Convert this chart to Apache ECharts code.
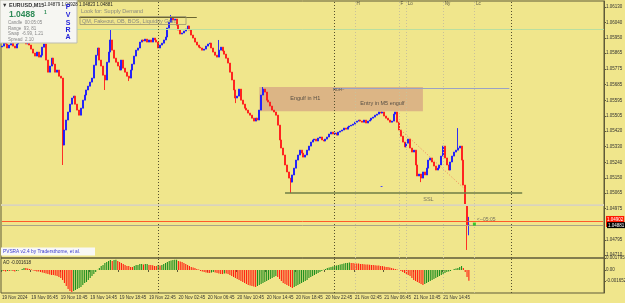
<!DOCTYPE html>
<html><head><meta charset="utf-8">
<script src="https://cdn.jsdelivr.net/npm/echarts@6/dist/echarts.min.js"></script>
<style>html,body{margin:0;padding:0;background:#f0e68c}#c{width:625px;height:303px}</style>
</head><body><div id="c"></div>
<script>
// ---------- data ----------
const slotCount = 328;               // visible 15-min slots (incl. empty future space)
const firstOpen = 1.05900;
const closes = [
1.05905,1.05934,1.05917,1.05894,1.05911, 1.05928,1.05905,1.05894,1.05917,1.05940,
1.05951,1.05968,1.05940,1.05917,1.05928, 1.05911,1.05888,1.05865,1.05848,1.05871,
1.05842,1.05853,1.05899,1.05917,1.05825, 1.05756,1.05791,1.05836,1.05802,1.05756,
1.05768,1.05733,1.05722,1.05339,1.05425, 1.05482,1.05528,1.05573,1.05608,1.05619,
1.05573,1.05539,1.05510,1.05550,1.05596, 1.05625,1.05654,1.05676,1.05699,1.05722,
1.05796,1.05853,1.05894,1.05825,1.05791, 1.05739,1.05711,1.05813,1.05871,1.05940,
1.05882,1.05836,1.05813,1.05791,1.05768, 1.05825,1.05779,1.05756,1.05733,1.05722,
1.05768,1.05802,1.05848,1.05882,1.05894, 1.05928,1.05940,1.05934,1.05945,1.05928,
1.05940,1.05928,1.05951,1.05940,1.05928, 1.05894,1.05911,1.05922,1.05940,1.05957,
1.06008,1.06042,1.06065,1.06054,1.06060, 1.06025,1.05997,1.05974,1.05980,1.05991,
1.06002,1.06020,1.05997,1.05968,1.05951, 1.05928,1.05911,1.05899,1.05894,1.05882,
1.05888,1.05905,1.05917,1.05922,1.05894, 1.05871,1.05853,1.05842,1.05882,1.05899,
1.05877,1.05859,1.05836,1.05808,1.05756, 1.05711,1.05654,1.05608,1.05619,1.05659,
1.05596,1.05573,1.05550,1.05539,1.05522, 1.05510,1.05493,1.05476,1.05493,1.05482,
1.05539,1.05625,1.05659,1.05642,1.05596, 1.05585,1.05562,1.05539,1.05528,1.05510,
1.05453,1.05368,1.05322,1.05282,1.05225, 1.05185,1.05150,1.05127,1.05168,1.05207,
1.05253,1.05282,1.05310,1.05293,1.05270, 1.05282,1.05310,1.05333,1.05356,1.05368,
1.05373,1.05362,1.05379,1.05385,1.05368, 1.05362,1.05373,1.05385,1.05402,1.05413,
1.05402,1.05408,1.05396,1.05413,1.05419, 1.05425,1.05436,1.05430,1.05442,1.05448,
1.05453,1.05459,1.05470,1.05476,1.05482, 1.05476,1.05470,1.05482,1.05465,1.05476,
1.05482,1.05493,1.05499,1.05510,1.05516, 1.05528,1.05522,1.05528,1.05505,1.05493,
1.05482,1.05470,1.05476,1.05516,1.05528, 1.05470,1.05425,1.05390,1.05356,1.05328,
1.05350,1.05373,1.05322,1.05299,1.05310, 1.05225,1.05162,1.05173,1.05150,1.05185,
1.05168,1.05207,1.05253,1.05265,1.05242, 1.05219,1.05196,1.05207,1.05225,1.05276,
1.05333,1.05265,1.05225,1.05196,1.05242, 1.05276,1.05299,1.05310,1.05322,1.05333,
1.05253,1.05110,1.04996,1.04879,1.04881
];
const wickHighs = [[59,1.05997],[92,1.06083],[118,1.05940],[142,1.05671],[248,1.05436],[254,1.04928]];
const wickLows  = [[33,1.05225],[56,1.05654],[69,1.05705],[127,1.05579],[157,1.05065],[228,1.05127],[253,1.04739],[254,1.04823]];

// Awesome Oscillator, units of 1e-4
const aoValues = [
-1.5,-1.5,-2.2,-1.5,-1.5,-0.8,-1.5,-2.2,-1.5,-0.8,0.1,
1.5,3.0,3.0,2.2,1.5,0.8,
-0.8,-1.5,-2.2,-2.2,-3.0,
-3.8,-4.5,-5.2,-6.0,-6.8,-7.5,-7.5,-8.2,-9.0,
-10.5,-12.0,-15.0,-19.5,-24.0,-28.5,-31.5,-33.0,
-31.5,-30.0,-28.5,-27.0,-25.5,-22.5,-19.5,-18.0,-15.0,-12.0,-9.0,-6.0,-3.0,0.2,
3.0,6.0,7.5,10.5,12.0,13.5,15.0,13.5,15.0,15.2,
13.5,12.0,10.5,9.0,7.5,6.0,5.9,4.5,4.4,
6.0,7.5,7.6,9.0,9.1,8.2,9.0,9.1,7.5,7.4,7.3,
6.0,5.9,7.5,6.8,7.5,9.0,
10.5,12.0,13.5,14.2,15.0,15.3,15.5,
13.5,12.8,12.0,10.5,9.0,7.5,6.0,4.5,3.8,3.0,1.5,0.8,
-1.5,-2.2,-3.0,-3.8,-4.5,-4.6,-3.8,-3.0,-3.8,-4.5,-5.2,-6.0,-6.1,-5.2,-5.3,-6.0,-7.5,-9.0,
-10.5,-12.0,-13.5,-15.0,-16.5,-18.0,-19.5,-21.0,-22.5,-23.2,-24.0,-24.8,-25.5,
-24.0,-22.5,-21.0,-19.5,-18.0,-16.5,-15.0,-13.5,-12.0,-10.5,-9.0,
-10.5,-13.5,-16.5,-19.5,-21.0,-22.5,-24.0,-25.5,-27.0,
-25.5,-24.0,-22.5,-21.0,-19.5,-18.0,-16.5,-15.0,-12.0,-10.5,-9.0,-7.5,-6.0,-4.5,-3.0,
-1.5,0.2,1.5,3.0,3.8,4.5,5.2,6.0,6.8,7.5,8.2,9.0,9.8,10.5,10.6,11.2,
10.5,10.4,9.8,9.7,9.6,9.0,8.9,8.8,8.2,8.1,8.0,7.5,7.4,7.3,6.8,6.7,6.0,
5.9,5.2,4.5,4.4,3.8,3.0,2.2,1.5,0.8,0.1,
-1.5,-3.0,-4.5,-6.0,-7.5,-9.0,-12.0,-15.0,-16.5,-18.0,-19.5,-21.0,-22.5,
-21.0,-19.5,-18.0,-16.5,-15.0,-13.5,-12.0,-10.5,-9.0,-7.5,-6.0,-4.5,-3.0,-2.2,-1.5,0.1,
1.5,2.2,3.0,4.5,6.0,
3.0,-3.0,-10.5,-16.18
];

const priceTicks = ['1.06130','1.06040','1.05950','1.05865','1.05775','1.05685','1.05595','1.05505',
  '1.05420','1.05330','1.05240','1.05150','1.05065','1.04975','1.04795','1.04710'];
const aoTicks = ['0.001795','0.00','-0.001652'];
const timeTicks = ['19 Nov 2024','19 Nov 06:45','19 Nov 10:45','19 Nov 14:45','19 Nov 18:45','19 Nov 22:45',
  '20 Nov 02:45','20 Nov 06:45','20 Nov 10:45','20 Nov 14:45','20 Nov 18:45','20 Nov 22:45',
  '21 Nov 02:45','21 Nov 06:45','21 Nov 10:45','21 Nov 14:45'];

// bar indices of separators / sessions
const daySeparators = [85, 181, 277];
const sessions = [['H',192],['F',216],['Lo',220],['Ny',240],['Lc',257]];
const bidPrice = 1.04881, askPrice = 1.04902;

// ---------- build ----------
const months = ['Jan','Feb','Mar','Apr','May','Jun','Jul','Aug','Sep','Oct','Nov','Dec'];
const pad = n => (n < 10 ? '0' : '') + n;
const t0 = Date.UTC(2024, 10, 19, 2, 45);
const categories = Array.from({length: slotCount}, (_, i) => {
  const d = new Date(t0 + i * 900000);
  return d.getUTCDate() + ' ' + months[d.getUTCMonth()] + ' ' + pad(d.getUTCHours()) + ':' + pad(d.getUTCMinutes());
});
const hiMap = Object.fromEntries(wickHighs), loMap = Object.fromEntries(wickLows);
const ohlc = closes.map((c, i) => {
  const o = i ? closes[i - 1] : firstOpen;
  let lo = Math.min(o, c), hi = Math.max(o, c);
  if (hiMap[i] !== undefined) hi = Math.max(hi, hiMap[i]);
  if (loMap[i] !== undefined) lo = Math.min(lo, loMap[i]);
  return [o, c, lo, hi];
});
const GREEN = '#1e8f1e', RED = '#ff2010';
const aoData = aoValues.map((v, i) => ({
  value: v * 1e-4,
  itemStyle: {color: (i === 0 || v > aoValues[i - 1]) ? GREEN : RED}
}));

const FONT = 'Liberation Sans';
const lastSlot = slotCount - 1;
const PMIN = 1.04693, PMAX = 1.06163;
const lvl = (y, color, w) => ({yAxis: y, lineStyle: {color, width: w || 1, type: 'solid'}});
const vDark = i => ({xAxis: i, lineStyle: {color: '#55502e', width: 1, type: [1, 2]}});
const vLight = i => ({xAxis: i, lineStyle: {color: '#c9c19a', width: 1, type: [1, 2]}});

const noteData = [
  {value: [165, 1.05608], label: {formatter: 'Engulf in H1', position: 'inside', fontSize: 5.5, color: '#333'}},
  {value: [207, 1.05579], label: {formatter: 'Entry in M5 engulf', position: 'inside', fontSize: 5.5, color: '#333'}},
  {value: [232, 1.05030], label: {formatter: 'SSL', position: 'inside', fontSize: 5.5, color: '#555'}},
  {value: [180, 1.05654], label: {formatter: 'RDH~', position: 'right', distance: 0, fontSize: 4, color: '#333'}},
  {value: [258, 1.04910], label: {formatter: '<--05:05', position: 'right', distance: 0, fontSize: 5, color: '#555'}}
].concat(sessions.map(s => ({value: [s[1], 1.06145], label: {formatter: s[0], position: 'right', distance: 1, fontSize: 4.5, color: '#333'}})));

const priceLabel = v => {
  if (Math.abs(v - askPrice) < 1e-9) return '{ask|' + v.toFixed(5) + '}';
  return v.toFixed(5);
};

const chart = echarts.init(document.getElementById('c'), null, {renderer: 'canvas'});
chart.setOption({
  animation: false,
  backgroundColor: '#f0e68c',
  textStyle: {fontFamily: FONT},
  grid: [
    {left: 1, right: 21, top: 1, height: 257, show: true, borderColor: '#5f5a38', borderWidth: 1,
     backgroundColor: 'transparent', containLabel: false, outerBoundsMode: 'none'},
    {left: 1, right: 21, top: 258, height: 35, show: true, borderColor: '#5f5a38', borderWidth: 1,
     backgroundColor: 'transparent', containLabel: false, outerBoundsMode: 'none'}
  ],
  xAxis: [
    {type: 'category', gridIndex: 0, data: categories, boundaryGap: true,
     axisLine: {show: false}, axisTick: {show: false}, axisLabel: {show: false}, splitLine: {show: false}},
    {type: 'category', gridIndex: 1, data: categories, boundaryGap: true,
     axisLine: {show: false},
     axisTick: {show: true, length: 2, lineStyle: {color: '#5f5a38'}, interval: i => i % 16 === 0 && i / 16 < timeTicks.length},
     axisLabel: {show: true, fontSize: 4.5, color: '#333', margin: 2, align: 'left', fontFamily: FONT,
       interval: i => i % 16 === 0 && i / 16 < timeTicks.length,
       formatter: (v, i) => timeTicks[i / 16] || ''},
     splitLine: {show: false}}
  ],
  yAxis: [
    {type: 'value', gridIndex: 0, position: 'right', min: PMIN, max: PMAX, scale: true,
     axisLine: {show: true, lineStyle: {color: '#5f5a38'}},
     axisTick: {show: true, length: 2, inside: false, lineStyle: {color: '#5f5a38'}, customValues: priceTicks.map(Number)},
     axisLabel: {show: true, fontSize: 4.5, color: '#333', margin: 2, fontFamily: FONT, hideOverlap: false,
       customValues: priceTicks.map(Number).concat([askPrice]), formatter: priceLabel,
       rich: {
         ask: {backgroundColor: '#ff1a00', color: '#fff', fontSize: 4.5, padding: [1, 1, 5, 1], fontFamily: FONT}
       }},
     splitLine: {show: false}},
    {type: 'value', gridIndex: 1, position: 'right', min: -0.00345, max: 0.0018,
     axisLine: {show: true, lineStyle: {color: '#5f5a38'}},
     axisTick: {show: true, length: 2, lineStyle: {color: '#5f5a38'}, customValues: aoTicks.map(Number)},
     axisLabel: {show: true, fontSize: 4.5, color: '#333', margin: 2, fontFamily: FONT,
       customValues: aoTicks.map(Number), formatter: v => v === 0 ? '0.00' : v.toFixed(6)},
     splitLine: {show: false}},
    {type: 'value', gridIndex: 0, position: 'right', offset: 0, min: PMIN, max: PMAX, scale: true,
     axisLine: {show: false}, axisTick: {show: false},
     axisLabel: {show: true, fontSize: 4.5, margin: 3, fontFamily: FONT, hideOverlap: false,
       customValues: [bidPrice], formatter: v => '{bid|' + v.toFixed(5) + '}',
       rich: {bid: {backgroundColor: '#000000', color: '#fff', fontSize: 4.5, padding: [1, 1, 0, 1], fontFamily: FONT}}},
     splitLine: {show: false}}
  ],
  series: [
    {type: 'line', name: 'levels', xAxisIndex: 0, yAxisIndex: 0, data: [], z: 1, silent: true,
     markArea: {silent: true, itemStyle: {color: '#dcb585'},
       data: [[{xAxis: 140, yAxis: 1.05671}, {xAxis: 229, yAxis: 1.05533}]]},
     markLine: {silent: true, symbol: ['none', 'none'], label: {show: false},
       data: [
         lvl(1.06002, '#ddd6ae'), lvl(1.05751, '#ddd6ae'), lvl(1.05502, '#b9dfa0'),
         lvl(1.05248, '#ddd6ae'), lvl(1.04998, '#d9d3bd', 2), lvl(1.04752, '#e0d9b0'),
         [{coord: [42, 1.06071], lineStyle: {color: '#6b6630', width: 1, type: 'solid'}}, {coord: [106, 1.06071]}],
         [{coord: [154, 1.05066], lineStyle: {color: '#6f7c45', width: 1.5, type: 'solid'}}, {coord: [283, 1.05066]}],
         [{coord: [180, 1.05665], lineStyle: {color: '#9aa2c4', width: 1, type: 'solid'}}, {coord: [276, 1.05665]}],
         [{coord: [217, 1.05425], lineStyle: {color: '#f0805a', width: 1, type: [1, 2]}}, {coord: [252, 1.05085]}],
         [{coord: [206, 1.05102], lineStyle: {color: '#4a4aff', width: 1, type: 'solid'}}, {coord: [207, 1.05102]}]
       ].concat(daySeparators.map(vDark), sessions.map(s => vLight(s[1])))}
    },
    {type: 'candlestick', name: 'EURUSD', xAxisIndex: 0, yAxisIndex: 0, data: ohlc, z: 3,
     barWidth: 1.5,
     itemStyle: {color: '#1a1aff', color0: '#ff1a1a', borderColor: '#1a1aff', borderColor0: '#ff1a1a', borderWidth: 0.9}},
    {type: 'line', name: 'bidask', xAxisIndex: 0, yAxisIndex: 0, data: [], z: 4, silent: true,
     markLine: {silent: true, symbol: ['none', 'none'], label: {show: false},
       data: [
         [{coord: [0, askPrice], lineStyle: {color: '#ff5a2a', width: 1, type: 'solid'}}, {coord: [lastSlot, askPrice]}],
         [{coord: [0, bidPrice], lineStyle: {color: '#a8a488', width: 1, type: 'solid'}}, {coord: [lastSlot, bidPrice]}]
       ]}},
    {type: 'scatter', name: 'notes', xAxisIndex: 0, yAxisIndex: 0, z: 5, silent: true,
     symbolSize: 1, itemStyle: {color: 'rgba(0,0,0,0)'},
     label: {show: true, fontFamily: FONT}, data: noteData},
    {type: 'scatter', name: 'marker', xAxisIndex: 0, yAxisIndex: 0, z: 5, silent: true,
     symbol: 'rect', symbolSize: 3, itemStyle: {color: '#10c010'}, data: [[257, 1.04887]]},
    {type: 'bar', name: 'AO', xAxisIndex: 1, yAxisIndex: 1, data: aoData, barWidth: 1.1, z: 3},
    {type: 'line', name: 'aoLevels', xAxisIndex: 1, yAxisIndex: 1, data: [], z: 1, silent: true,
     markLine: {silent: true, symbol: ['none', 'none'], label: {show: false},
       data: daySeparators.map(vDark).concat(sessions.map(s => vLight(s[1])))}}
  ],
  graphic: [
    {type: 'rect', shape: {x: 0, y: 0, width: 77, height: 43}, style: {fill: '#f6f6f2', stroke: '#bdbdb0', lineWidth: 1}, z: 100},
    {type: 'text', x: 2, y: 2, z: 101, style: {text: '▼ EURUSD,M15', font: 'bold 5.5px ' + FONT, fill: '#333'}},
    {type: 'text', x: 44, y: 2.5, z: 101, style: {text: '1.04879 1.04928 1.04823 1.04881', font: '4.5px ' + FONT, fill: '#222'}},
    {type: 'text', x: 9, y: 10.5, z: 101, style: {text: '1.0488', font: 'bold 8.5px ' + FONT, fill: '#2e8b57'}},
    {type: 'text', x: 44, y: 10.5, z: 101, style: {text: '1', font: 'bold 5px ' + FONT, fill: '#2e8b57'}},
    {type: 'text', x: 8, y: 20.5, z: 101, style: {text: 'Candle  00:05:05', font: '4.5px ' + FONT, fill: '#888'}},
    {type: 'text', x: 8, y: 26, z: 101, style: {text: 'Range  93, 81', font: '4.5px ' + FONT, fill: '#888'}},
    {type: 'text', x: 8, y: 31.5, z: 101, style: {text: 'Swap  -6.99, 1.21', font: '4.5px ' + FONT, fill: '#888'}},
    {type: 'text', x: 8, y: 37, z: 101, style: {text: 'Spread  2.10', font: '4.5px ' + FONT, fill: '#888'}},
    {type: 'text', x: 68, y: 7, z: 101, style: {text: 'P', font: 'bold 7px ' + FONT, fill: '#2424d8', align: 'center', verticalAlign: 'middle'}},
    {type: 'text', x: 68, y: 15, z: 101, style: {text: 'V', font: 'bold 7px ' + FONT, fill: '#2424d8', align: 'center', verticalAlign: 'middle'}},
    {type: 'text', x: 68, y: 23, z: 101, style: {text: 'S', font: 'bold 7px ' + FONT, fill: '#2424d8', align: 'center', verticalAlign: 'middle'}},
    {type: 'text', x: 68, y: 30, z: 101, style: {text: 'R', font: 'bold 7px ' + FONT, fill: '#2424d8', align: 'center', verticalAlign: 'middle'}},
    {type: 'text', x: 68, y: 37, z: 101, style: {text: 'A', font: 'bold 7px ' + FONT, fill: '#2424d8', align: 'center', verticalAlign: 'middle'}},
    {type: 'text', x: 81, y: 8.5, z: 101, style: {text: 'Look for: Supply Demand', font: '5.5px ' + FONT, fill: '#8a8a80'}},
    {type: 'rect', shape: {x: 80, y: 16.5, width: 106, height: 8}, style: {fill: 'none', stroke: '#9a9470', lineWidth: 0.8}, z: 101},
    {type: 'text', x: 82, y: 18, z: 101, style: {text: 'QM, Fakeout, OB, BOS, Liquidity Grab', font: '5.5px ' + FONT, fill: '#8a8a80'}},
    {type: 'rect', shape: {x: 1, y: 247.5, width: 94, height: 8}, style: {fill: '#f8f8f6', stroke: 'none'}, z: 100},
    {type: 'text', x: 3, y: 249, z: 101, style: {text: 'PVSRA v2.4 by Tradersthome, et al.', font: '4.8px ' + FONT, fill: '#3a3ad0'}},
    {type: 'text', x: 3, y: 260, z: 101, style: {text: 'AO -0.001618', font: '4.5px ' + FONT, fill: '#222'}}
  ]
});
</script></body></html>
